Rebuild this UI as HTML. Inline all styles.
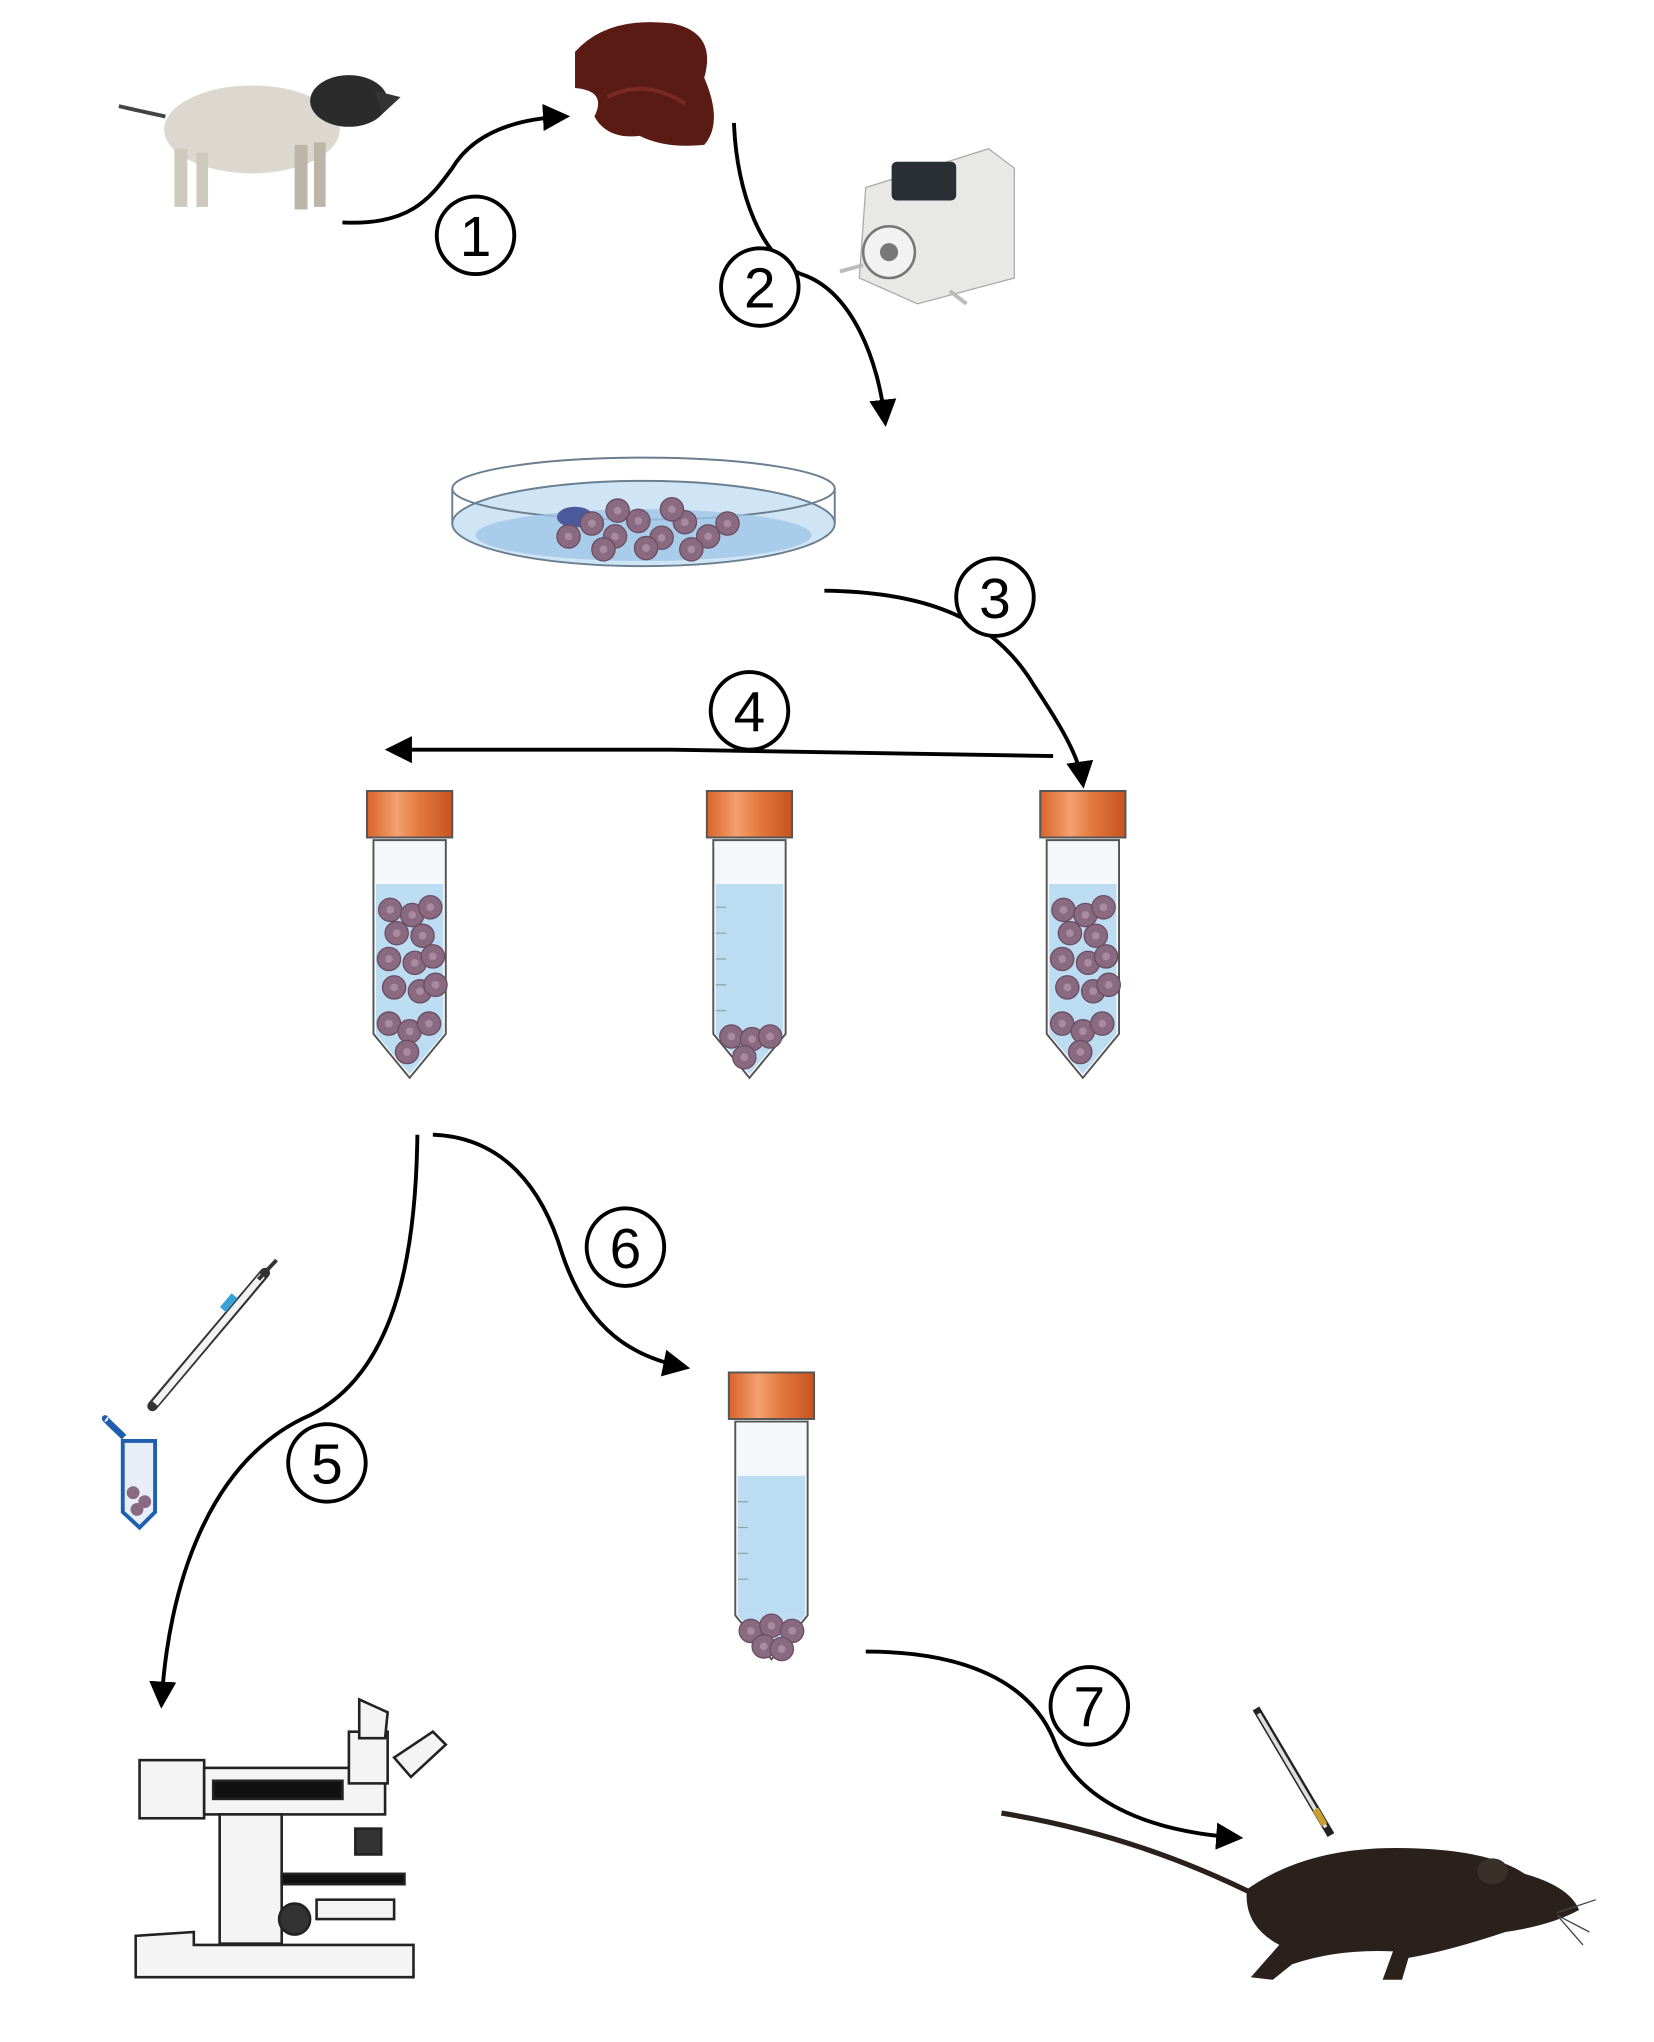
<!DOCTYPE html>
<html><head><meta charset="utf-8"><style>
html,body{margin:0;padding:0;background:#fff;}
svg{display:block;}
text{font-family:"Liberation Sans",sans-serif;}
</style></head><body>
<svg width="1654" height="2042" viewBox="0 0 1280 1580" xmlns="http://www.w3.org/2000/svg">
<defs>
<marker id="ah" viewBox="0 0 10 10" refX="8" refY="5" markerWidth="7" markerHeight="7" orient="auto"><path d="M0,0 L10,5 L0,10 z" fill="#000"/></marker>
<linearGradient id="cap" x1="0" x2="1"><stop offset="0" stop-color="#d9632a"/><stop offset="0.35" stop-color="#f4a070"/><stop offset="0.6" stop-color="#e47a40"/><stop offset="1" stop-color="#c8531e"/></linearGradient>
<g id="cell"><circle r="9" fill="#8a6a80" stroke="#6a4d62" stroke-width="1"/><circle r="3" fill="#a98aa0"/></g>
<g id="tubeBase">
<rect x="-33" y="0" width="66" height="36" fill="url(#cap)" stroke="#555" stroke-width="1.5"/>
<path d="M-28,38 L28,38 L28,188 L0,222 L-28,188 Z" fill="#f4f8fb" stroke="#555" stroke-width="1.5"/>
</g>
</defs>

<!-- pig -->
<g>
<ellipse cx="195" cy="100" rx="68" ry="34" fill="#dcd8cf"/>
<ellipse cx="270" cy="78" rx="30" ry="20" fill="#2b2b2b"/>
<path d="M290,70 L310,75 L296,88 Z" fill="#333"/>
<rect x="135" y="115" width="10" height="45" fill="#cfc9bd"/>
<rect x="152" y="118" width="9" height="42" fill="#cfc9bd"/>
<rect x="228" y="112" width="10" height="50" fill="#bdb6a8"/>
<rect x="243" y="110" width="9" height="50" fill="#bdb6a8"/>
<path d="M128,90 Q105,85 92,82" stroke="#444" stroke-width="3" fill="none"/>
</g>

<!-- liver -->
<path d="M445,40 Q470,12 520,18 Q555,25 545,60 Q560,95 545,112 Q515,115 495,105 Q470,108 460,90 Q470,70 445,68 Z" fill="#5a1b14"/>
<path d="M470,75 Q500,60 530,80" stroke="#7a2a20" stroke-width="3" fill="none"/>

<!-- pump -->
<g>
<path d="M670,145 L765,115 L785,130 L785,215 L710,235 L665,215 Z" fill="#e8e8e6" stroke="#aaa"/>
<rect x="690" y="125" width="50" height="30" rx="4" fill="#2a2f36"/>
<circle cx="688" cy="195" r="20" fill="#f2f2f2" stroke="#777" stroke-width="2"/>
<circle cx="688" cy="195" r="7" fill="#777"/>
<path d="M650,210 L668,205 M735,225 L748,235" stroke="#bbb" stroke-width="3"/>
</g>

<!-- petri dish -->
<g>
<ellipse cx="498" cy="405" rx="148" ry="33" fill="#cfe4f4" stroke="#6a7f90" stroke-width="1.5"/>
<path d="M350,378 L350,405 M646,378 L646,405" stroke="#6a7f90" stroke-width="1.5"/>
<ellipse cx="498" cy="378" rx="148" ry="24" fill="none" stroke="#6a7f90" stroke-width="1.5"/>
<ellipse cx="498" cy="414" rx="130" ry="20" fill="#9ec6e6" opacity="0.8"/>
<ellipse cx="445" cy="400" rx="14" ry="8" fill="#4b5a9a"/>
<g>
<use href="#cell" x="440" y="415"/><use href="#cell" x="458" y="405"/><use href="#cell" x="476" y="415"/><use href="#cell" x="494" y="403"/>
<use href="#cell" x="512" y="416"/><use href="#cell" x="530" y="404"/><use href="#cell" x="548" y="415"/><use href="#cell" x="563" y="405"/>
<use href="#cell" x="467" y="425"/><use href="#cell" x="500" y="424"/><use href="#cell" x="535" y="425"/><use href="#cell" x="478" y="395"/><use href="#cell" x="520" y="394"/>
</g>
</g>

<!-- tubes row -->
<g transform="translate(317,612)">
<use href="#tubeBase"/>
<rect x="-26" y="72" width="52" height="116" fill="#bcdcf2"/><path d="M-26,188 L26,188 L0,219 Z" fill="#bcdcf2"/>
<g><use href="#cell" x="-15" y="92"/><use href="#cell" x="2" y="96"/><use href="#cell" x="16" y="90"/><use href="#cell" x="-10" y="110"/><use href="#cell" x="10" y="112"/>
<use href="#cell" x="-16" y="130"/><use href="#cell" x="4" y="133"/><use href="#cell" x="18" y="128"/><use href="#cell" x="-12" y="152"/><use href="#cell" x="8" y="155"/><use href="#cell" x="20" y="150"/>
<use href="#cell" x="-16" y="180"/><use href="#cell" x="0" y="186"/><use href="#cell" x="15" y="180"/><use href="#cell" x="-2" y="202"/></g>
</g>
<g transform="translate(580,612)">
<use href="#tubeBase"/>
<rect x="-26" y="72" width="52" height="116" fill="#bcdcf2"/><path d="M-26,188 L26,188 L0,219 Z" fill="#bcdcf2"/>
<g stroke="#8aa" stroke-width="1"><path d="M-26,90 h8 M-26,110 h8 M-26,130 h8 M-26,150 h8 M-26,170 h8"/></g>
<use href="#cell" x="-14" y="190"/><use href="#cell" x="2" y="192"/><use href="#cell" x="16" y="190"/><use href="#cell" x="-4" y="206"/>
</g>
<g transform="translate(838,612)">
<use href="#tubeBase"/>
<rect x="-26" y="72" width="52" height="116" fill="#bcdcf2"/><path d="M-26,188 L26,188 L0,219 Z" fill="#bcdcf2"/>
<g><use href="#cell" x="-15" y="92"/><use href="#cell" x="2" y="96"/><use href="#cell" x="16" y="90"/><use href="#cell" x="-10" y="110"/><use href="#cell" x="10" y="112"/>
<use href="#cell" x="-16" y="130"/><use href="#cell" x="4" y="133"/><use href="#cell" x="18" y="128"/><use href="#cell" x="-12" y="152"/><use href="#cell" x="8" y="155"/><use href="#cell" x="20" y="150"/>
<use href="#cell" x="-16" y="180"/><use href="#cell" x="0" y="186"/><use href="#cell" x="15" y="180"/><use href="#cell" x="-2" y="202"/></g>
</g>

<!-- bottom tube -->
<g transform="translate(597,1062)">
<use href="#tubeBase"/>
<rect x="-26" y="80" width="52" height="108" fill="#bcdcf2"/><path d="M-26,188 L26,188 L0,219 Z" fill="#bcdcf2"/>
<g stroke="#8aa" stroke-width="1"><path d="M-26,100 h8 M-26,120 h8 M-26,140 h8 M-26,160 h8"/></g>
<use href="#cell" x="-16" y="200"/><use href="#cell" x="0" y="196"/><use href="#cell" x="16" y="200"/><use href="#cell" x="-6" y="212"/><use href="#cell" x="8" y="214"/>
</g>

<!-- pipette + eppendorf -->
<g>
<path d="M118,1088 L205,985" stroke="#333" stroke-width="8" stroke-linecap="round"/>
<path d="M120,1086 L203,987" stroke="#f2f2f2" stroke-width="5"/>
<path d="M200,990 L214,975" stroke="#333" stroke-width="3"/>
<rect x="170" y="1005" width="14" height="6" fill="#3aa0d8" transform="rotate(-50 177 1008)"/>
<path d="M95,1115 L120,1115 L120,1170 L108,1182 L95,1170 Z" fill="#e8eef6" stroke="#1f5fb0" stroke-width="3"/>
<path d="M96,1112 Q78,1095 82,1098" stroke="#1f5fb0" stroke-width="5" fill="none"/>
<circle cx="103" cy="1155" r="5" fill="#8a6a80"/><circle cx="112" cy="1162" r="5" fill="#8a6a80"/><circle cx="106" cy="1168" r="5" fill="#8a6a80"/>
</g>

<!-- microscope -->
<g stroke="#222" stroke-width="2" fill="#f4f4f4">
<rect x="108" y="1362" width="50" height="45"/>
<rect x="158" y="1368" width="140" height="36"/>
<rect x="165" y="1378" width="100" height="14" fill="#111"/>
<rect x="170" y="1404" width="48" height="100"/>
<rect x="218" y="1450" width="95" height="8" fill="#111"/>
<rect x="270" y="1340" width="30" height="40"/>
<path d="M278,1315 L300,1325 L298,1345 L278,1345 Z"/>
<path d="M305,1360 L335,1340 L345,1350 L318,1375 Z"/>
<rect x="275" y="1415" width="20" height="20" fill="#333"/>
<circle cx="228" cy="1485" r="12" fill="#333"/>
<rect x="245" y="1470" width="60" height="15"/>
<path d="M105,1530 L320,1530 L320,1505 L150,1505 L150,1495 L105,1498 Z"/>
</g>

<!-- mouse -->
<g fill="#2a211c">
<path d="M965,1462 Q1010,1430 1080,1430 Q1150,1430 1180,1450 Q1215,1460 1222,1478 Q1200,1490 1165,1495 Q1120,1510 1090,1515 L1085,1532 L1070,1532 L1078,1510 Q1035,1508 1000,1520 L985,1532 L968,1530 L990,1505 Q962,1490 965,1462 Z"/>
<ellipse cx="1155" cy="1448" rx="12" ry="10" fill="#3a302a"/>
<path d="M975,1468 Q880,1420 775,1403" stroke="#2a211c" stroke-width="4" fill="none"/>
<path d="M1205,1480 L1235,1470 M1205,1482 L1230,1495 M1205,1482 L1225,1505" stroke="#444" stroke-width="1"/>
</g>
<!-- syringe -->
<g><path d="M972,1322 L1030,1420" stroke="#222" stroke-width="6"/><path d="M974,1326 L1026,1414" stroke="#ddd" stroke-width="3"/><path d="M1018,1400 L1025,1412" stroke="#c9a030" stroke-width="5"/></g>

<!-- arrows -->
<g stroke="#000" stroke-width="3" fill="none">
<path d="M265,172 C320,175 335,150 350,130 C365,105 395,92 437,90" marker-end="url(#ah)"/>
<path d="M568,95 C570,150 590,200 620,212 C660,225 680,280 685,326" marker-end="url(#ah)"/>
<path d="M638,457 C720,458 770,480 800,530 C820,560 835,585 838,606" marker-end="url(#ah)"/>
<path d="M815,585 L520,580 L302,580" marker-end="url(#ah)"/>
<path d="M323,878 C322,960 310,1060 240,1095 C160,1130 130,1230 125,1318" marker-end="url(#ah)"/>
<path d="M335,878 C390,880 420,920 435,970 C455,1030 490,1050 530,1058" marker-end="url(#ah)"/>
<path d="M670,1278 C760,1278 800,1310 815,1345 C835,1400 900,1418 958,1422" marker-end="url(#ah)"/>
</g>

<!-- number circles -->
<g fill="#fff" stroke="#000" stroke-width="3">
<circle cx="368" cy="182" r="30"/><circle cx="588" cy="222" r="30"/><circle cx="770" cy="462" r="30"/>
<circle cx="580" cy="550" r="30"/><circle cx="253" cy="1132" r="30"/><circle cx="484" cy="965" r="30"/><circle cx="843" cy="1320" r="30"/>
</g>
<g font-size="44" text-anchor="middle" fill="#000">
<text x="368" y="198">1</text><text x="588" y="238">2</text><text x="770" y="478">3</text>
<text x="580" y="566">4</text><text x="253" y="1148">5</text><text x="484" y="981">6</text><text x="843" y="1336">7</text>
</g>
</svg>
</body></html>
